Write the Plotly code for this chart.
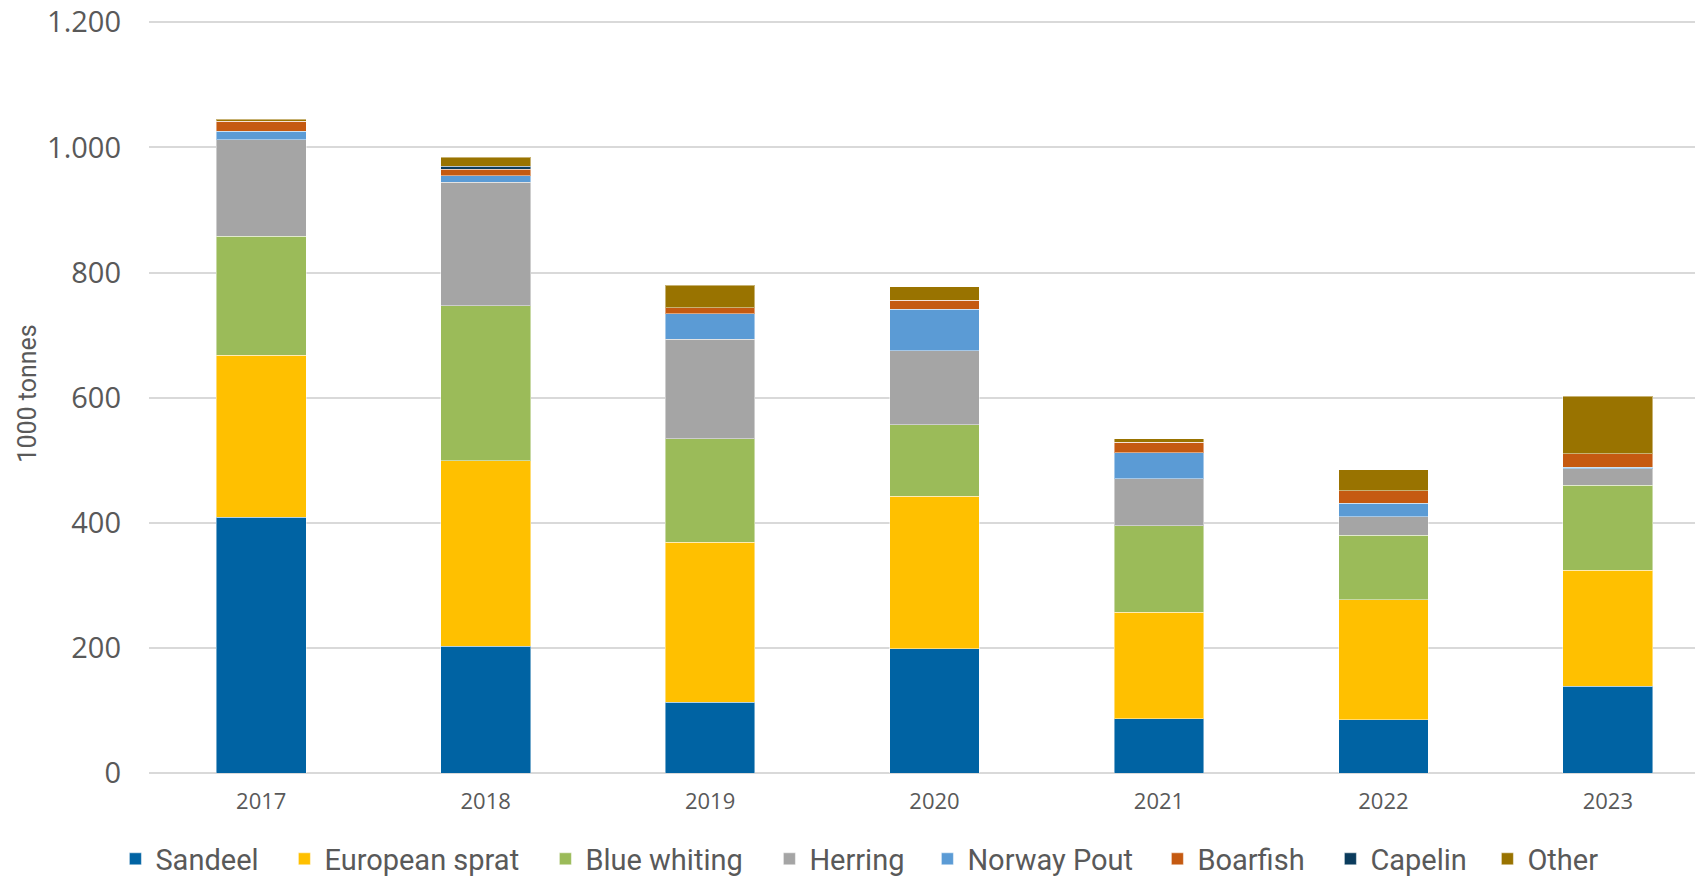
import plotly.graph_objects as go

years = ["2017", "2018", "2019", "2020", "2021", "2022", "2023"]

sandeel = [409, 203, 113, 199, 87, 85, 139]
european_sprat = [259, 296, 256, 243, 170, 192, 185]
blue_whiting = [190, 248, 165, 115, 138, 103, 136]
herring = [154, 197, 159, 118, 75, 30, 26]
norway_pout = [14, 11, 41, 66, 42, 21, 3]
boarfish = [16, 10, 10, 15, 17, 20, 21]
capelin = [0, 5, 0, 0, 0, 0, 0]
other = [3, 14, 36, 21, 5, 34, 92]

series_names = ["Sandeel", "European sprat", "Blue whiting", "Herring",
                "Norway Pout", "Boarfish", "Capelin", "Other"]
series_values = [sandeel, european_sprat, blue_whiting, herring,
                 norway_pout, boarfish, capelin, other]
series_colors = ["#0063A3", "#FFC000", "#9BBB59", "#A5A5A5",
                 "#5B9BD5", "#C55A11", "#0B3C5D", "#997300"]

# legend text start positions (page pixels)
legend_text_px = [155, 324, 585, 809, 967, 1197, 1370, 1527]

# page body has an 8px default margin; figure is sized to fit the window
OFF = 8
W, H = 1703 - OFF, 881 - OFF
Y_MAX = 1210                      # a little headroom so the 1.200 gridline is drawn
PX_PER_UNIT = 751 / 1200
EXTRA = (Y_MAX - 1200) * PX_PER_UNIT
ML, MR, MB = 149 - OFF, 0, 108
MT = 22 - OFF - EXTRA
plot_w = W - ML - MR
plot_h = H - MT - MB

def py(page_y):
    """page pixel y -> paper coordinate"""
    return (H - MB - (page_y - OFF)) / plot_h

fig = go.Figure()
layout_legends = {}
for i, (name, vals, color) in enumerate(zip(series_names, series_values, series_colors)):
    key = "legend" if i == 0 else f"legend{i + 1}"
    fig.add_trace(go.Bar(
        x=years, y=vals, name=name, legend=key,
        marker=dict(color=color, line=dict(color="rgba(255,255,255,0.45)", width=1)),
    ))
    layout_legends[key] = dict(
        orientation="h",
        x=(legend_text_px[i] - OFF - 39.6 - ML) / plot_w, xanchor="left",
        y=py(859), yanchor="middle",
        font=dict(family="Roboto", size=29, color="#595959"),
        itemwidth=30,
        bgcolor="rgba(0,0,0,0)",
    )

fig.update_layout(
    barmode="stack",
    bargap=0.6,
    width=W, height=H,
    margin=dict(l=ML, r=MR, t=MT, b=MB, autoexpand=False),
    plot_bgcolor="white",
    paper_bgcolor="white",
    separators=",.",
    showlegend=True,
    xaxis=dict(
        type="category",
        range=[-0.5, 6.424],
        showgrid=False,
        tickfont=dict(family="Open Sans", size=22, color="#595959"),
        ticks="",
        ticklabelstandoff=13,
        showline=False,
    ),
    yaxis=dict(
        range=[0, Y_MAX],
        tickvals=[0, 200, 400, 600, 800, 1000, 1200],
        tickformat=",",
        showgrid=True,
        gridcolor="#D9D9D9",
        gridwidth=1.5,
        zeroline=True,
        zerolinecolor="#D9D9D9",
        zerolinewidth=1.5,
        tickfont=dict(family="Open Sans", size=29, color="#595959"),
        ticks="",
        ticklabelstandoff=27,
        ticklabeloverflow="allow",
    ),
    annotations=[dict(
        text="1000 tonnes", textangle=-90,
        xref="paper", yref="paper",
        x=(27.5 - OFF - ML) / plot_w, y=py(394),
        xanchor="center", yanchor="middle", showarrow=False,
        font=dict(family="Roboto", size=25, color="#595959"),
    )],
    **layout_legends,
)

fig.write_html("out.html")
